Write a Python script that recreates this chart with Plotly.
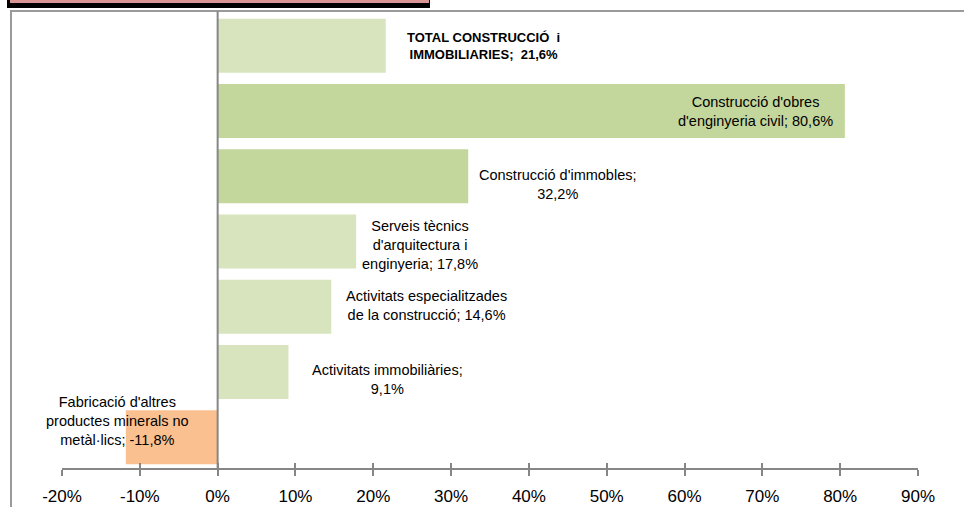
import plotly.graph_objects as go

categories = [
    "TOTAL CONSTRUCCIÓ i IMMOBILIARIES",
    "Construcció d'obres d'enginyeria civil",
    "Construcció d'immobles",
    "Serveis tècnics d'arquitectura i enginyeria",
    "Activitats especialitzades de la construcció",
    "Activitats immobiliàries",
    "Fabricació d'altres productes minerals no metàl·lics",
]
values = [21.6, 80.6, 32.2, 17.8, 14.6, 9.1, -11.8]
label_lines = [
    ["TOTAL CONSTRUCCIÓ  i", "IMMOBILIARIES;  21,6%"],
    ["Construcció d'obres", "d'enginyeria civil; 80,6%"],
    ["Construcció d'immobles;", "32,2%"],
    ["Serveis tècnics", "d'arquitectura i", "enginyeria; 17,8%"],
    ["Activitats especialitzades", "de la construcció; 14,6%"],
    ["Activitats immobiliàries;", "9,1%"],
    ["Fabricació d'altres", "productes minerals no", "metàl·lics; -11,8%"],
]
tick_vals = [-20, -10, 0, 10, 20, 30, 40, 50, 60, 70, 80, 90]
tick_text = ["-20%", "-10%", "0%", "10%", "20%", "30%", "40%", "50%", "60%", "70%", "80%", "90%"]

# style
bar_colors = ["#D7E4BD", "#C3D69B", "#C3D69B", "#D7E4BD", "#D7E4BD", "#D7E4BD", "#FAC090"]
label_x = [34.2, 69.1, 43.8, 26.0, 26.8, 21.8, -12.9]
label_yshift = [0, -1, -8, -4, 1, -7, 16]
label_bold = [True, False, False, False, False, False, False]

FONT = "Liberation Sans, Arial, sans-serif"
L, R, T, B = 62, 46, 13, 39
PW, PH = 964 - L - R, 507 - T - B

fig = go.Figure()
fig.add_trace(go.Bar(
    x=values, y=categories, orientation="h",
    marker=dict(color=bar_colors, line=dict(width=0)),
    hoverinfo="skip", showlegend=False,
))
# dummy trace for overlay axis (inside ticks)
fig.add_trace(go.Scatter(x=[None], y=[None], xaxis="x2", showlegend=False, hoverinfo="skip"))

for i, cat in enumerate(categories):
    txt = "<br>".join(label_lines[i])
    if label_bold[i]:
        txt = "<b>" + txt + "</b>"
    fig.add_annotation(
        x=label_x[i], y=cat, xref="x", yref="y", text=txt, showarrow=False,
        yshift=label_yshift[i], align="center",
        font=dict(family=FONT, size=13 if label_bold[i] else 14.5, color="#000000"),
    )

def px2x(px):
    return (px - L) / PW

def py2y(py):
    return (507 - B - py) / PH

shapes = [
    # chart frame (left and top)
    dict(type="line", xref="paper", yref="paper", x0=px2x(11), x1=px2x(11), y0=py2y(11), y1=py2y(510),
         line=dict(color="#9A9A9A", width=2)),
    dict(type="line", xref="paper", yref="paper", x0=px2x(10), x1=px2x(970), y0=py2y(11), y1=py2y(11),
         line=dict(color="#9A9A9A", width=2)),
    # zero line up to the frame
    dict(type="line", xref="x", yref="paper", x0=0, x1=0, y0=0, y1=py2y(11),
         line=dict(color="#868686", width=2)),
    # title box
    dict(type="rect", xref="paper", yref="paper", x0=px2x(7), x1=px2x(430), y0=py2y(8), y1=py2y(-10),
         fillcolor="#000000", line=dict(width=0), layer="above"),
    dict(type="rect", xref="paper", yref="paper", x0=px2x(10), x1=px2x(429), y0=py2y(3), y1=py2y(-10),
         fillcolor="#D99594", line=dict(width=0), layer="above"),
]

fig.update_layout(
    width=964, height=507,
    margin=dict(l=L, r=R, t=T, b=B, autoexpand=False),
    paper_bgcolor="white", plot_bgcolor="white",
    bargap=0.173,
    shapes=shapes,
    font=dict(family=FONT, color="#000000"),
    xaxis=dict(
        range=[-20, 90], tickvals=tick_vals, ticktext=tick_text, automargin=False,
        showgrid=False, zeroline=False,
        showline=True, linecolor="#868686", linewidth=2,
        ticks="outside", ticklen=6, tickwidth=1.5, tickcolor="#868686",
        tickfont=dict(family=FONT, size=17, color="#000000"),
        ticklabelstandoff=6,
        fixedrange=True,
    ),
    xaxis2=dict(
        range=[-20, 90], overlaying="x", anchor="y", side="bottom", automargin=False,
        tickvals=tick_vals, showticklabels=False, showgrid=False, zeroline=False,
        ticks="inside", ticklen=5, tickwidth=1.5, tickcolor="#868686", showline=False,
    ),
    yaxis=dict(
        range=[6.47, -0.5], showticklabels=False, showgrid=False, zeroline=False,
        showline=False, ticks="", automargin=False,
    ),
)

fig.write_html("out.html", config={"displayModeBar": False},
               post_script="document.body.style.margin='0';document.body.style.overflow='hidden';")
